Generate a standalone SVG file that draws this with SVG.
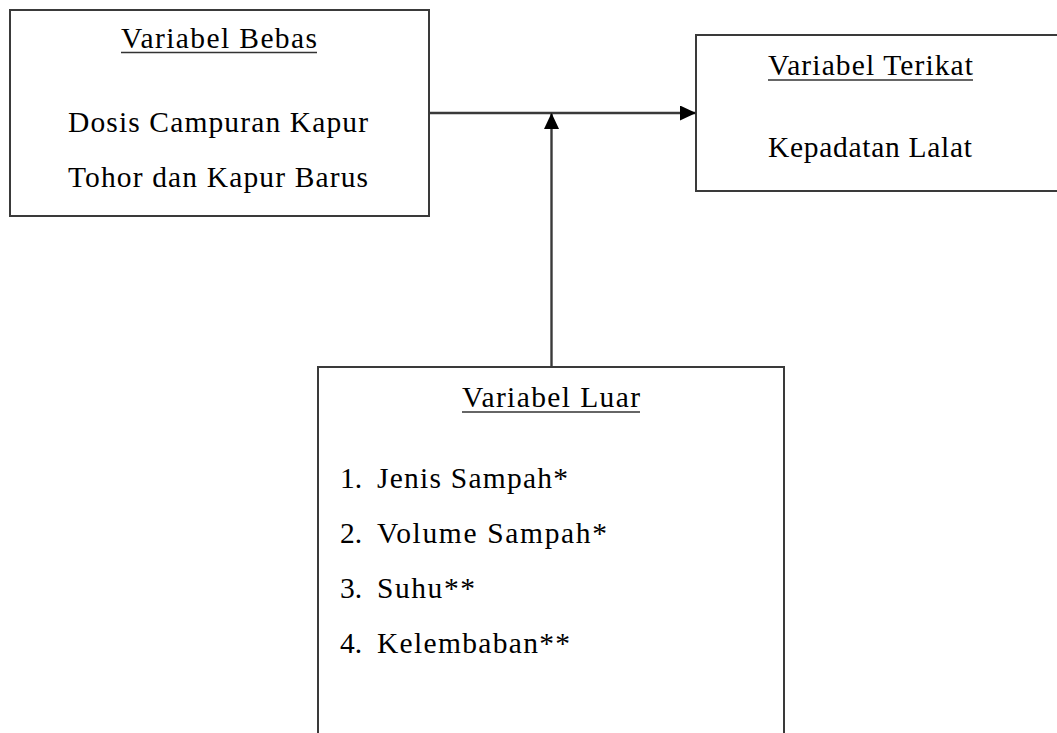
<svg xmlns="http://www.w3.org/2000/svg" width="1057" height="733" viewBox="0 0 1057 733">
<style>
.box{fill:#fff;stroke:#3a3a3a;stroke-width:2}
.t{font-family:"Liberation Serif","Times New Roman",serif;font-size:29.5px;fill:#000}
.ul{stroke:#333;stroke-width:1.6}
.conn{stroke:#3a3a3a;stroke-width:2.4;fill:none}
</style>
<defs>
<marker id="arr" viewBox="0 0 16 15" refX="16" refY="7.5" markerWidth="16" markerHeight="15" markerUnits="userSpaceOnUse" orient="auto">
<path d="M0,0 L16,7.5 L0,15 Z" fill="#000"/>
</marker>
</defs>
<rect width="1057" height="733" fill="#fff"/>
<g id="bebas">
<rect class="box" x="10" y="10" width="419" height="206"/>
<text class="t" x="121" y="48" textLength="196" lengthAdjust="spacing">Variabel Bebas</text>
<line class="ul" x1="121" y1="52.5" x2="317" y2="52.5"/>
<text class="t" x="68" y="132" textLength="300" lengthAdjust="spacing">Dosis Campuran Kapur</text>
<text class="t" x="68" y="187" textLength="300" lengthAdjust="spacing">Tohor dan Kapur Barus</text>
</g>
<g id="terikat">
<rect class="box" x="696" y="35" width="380" height="156"/>
<text class="t" x="768" y="75" textLength="205" lengthAdjust="spacing">Variabel Terikat</text>
<line class="ul" x1="768" y1="80" x2="973" y2="80"/>
<text class="t" x="768" y="157" textLength="204" lengthAdjust="spacing">Kepadatan Lalat</text>
</g>
<g id="luar">
<rect class="box" x="318" y="367" width="466" height="390"/>
<text class="t" x="462" y="407" textLength="178" lengthAdjust="spacing">Variabel Luar</text>
<line class="ul" x1="462" y1="412" x2="640" y2="412"/>
<text class="t" x="340" y="488">1.</text>
<text class="t" x="377" y="488" textLength="191" lengthAdjust="spacing">Jenis Sampah*</text>
<text class="t" x="340" y="543">2.</text>
<text class="t" x="377" y="543" textLength="230" lengthAdjust="spacing">Volume Sampah*</text>
<text class="t" x="340" y="598">3.</text>
<text class="t" x="377" y="598" textLength="98" lengthAdjust="spacing">Suhu**</text>
<text class="t" x="340" y="653">4.</text>
<text class="t" x="377" y="653" textLength="193" lengthAdjust="spacing">Kelembaban**</text>
</g>
<g id="connectors">
<line class="conn" x1="429" y1="113" x2="696" y2="113" marker-end="url(#arr)"/>
<line class="conn" x1="551.5" y1="366" x2="551.5" y2="113" marker-end="url(#arr)"/>
</g>
</svg>
